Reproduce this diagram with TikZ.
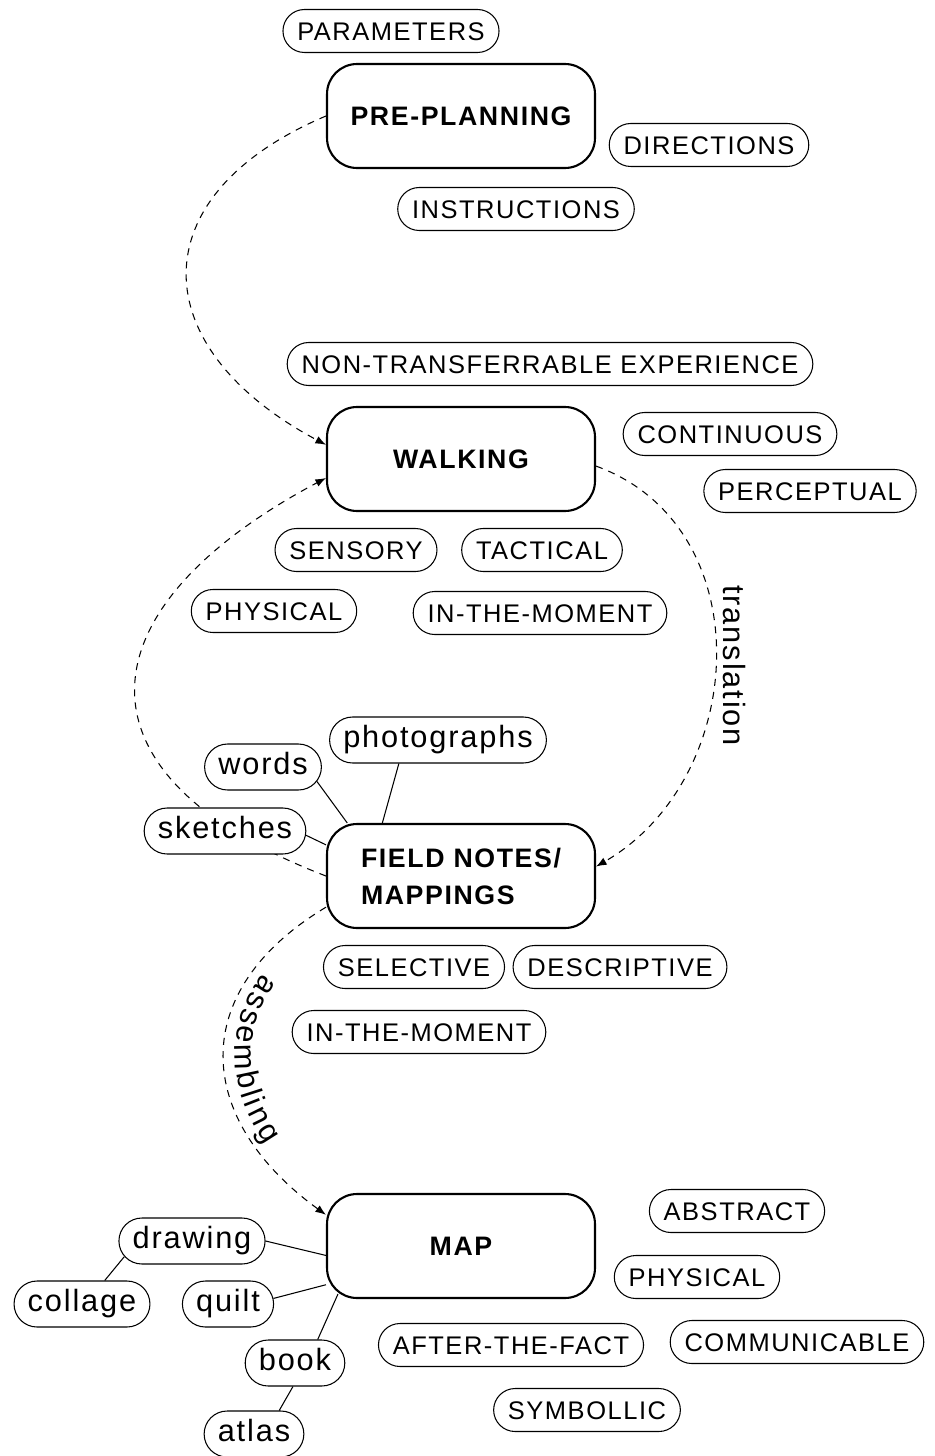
\documentclass[tikz,border=0pt]{standalone}
\usepackage{fontspec}
\setmainfont{Liberation Sans}[LetterSpace=6]
\usetikzlibrary{shapes.misc,backgrounds,arrows.meta,decorations.text}

\newcommand{\tagfont}{\fontsize{14.5}{16}\selectfont}
\newcommand{\mediafont}{\fontsize{17.5}{19}\selectfont}
\newcommand{\stagefont}{\fontsize{15.2}{21}\selectfont\bfseries}
\newcommand{\gap}{{\kern1.8pt}}

\tikzset{
  stage/.style={draw, line width=1.2pt, rounded corners=0.6cm, minimum width=5.36cm, minimum height=2.08cm, font=\stagefont},
  tag/.style={draw, line width=0.6pt, rounded rectangle, fill=white, minimum height=0.86cm, inner xsep=7pt, text height=10.4pt, text depth=0pt, font=\tagfont},
  medium/.style={tag, font=\mediafont, minimum height=0.92cm, text height=9pt, text depth=0pt},
  link/.style={line width=0.6pt},
  flow/.style={->, >={Latex[length=6pt, width=4.5pt]}, line width=0.6pt, dash pattern=on 4pt off 3.5pt},
  flowlabel/.style={anchor=south, font=\mediafont, inner sep=4pt}
}

\begin{document}
\begin{tikzpicture}[x=0.02cm, y=0.02cm]
      \useasboundingbox (0,0) rectangle (934,-1456);

      % stages
      \node[stage] (pre) at (461,-116) {PRE-PLANNING};
      \node[stage] (walk) at (461,-459) {WALKING};
      \node[stage, align=left] (field) at (461,-876) {FIELD NOTES/\\MAPPINGS};
      \node[stage] (map) at (461,-1246) {MAP};

      % pre-planning
      \node[tag] (params) at (391,-31) {PARAMETERS};
      \node[tag] (directions) at (709,-145) {DIRECTIONS};
      \node[tag] (instructions) at (516,-209) {INSTRUCTIONS};

      % walking
      \node[tag] (nontransfer) at (550,-364) {NON-TRANSFERRABLE EXPERIENCE};
      \node[tag] (continuous) at (730,-434) {CONTINUOUS};
      \node[tag] (perceptual) at (810,-491) {PERCEPTUAL};
      \node[tag] (sensory) at (356,-550) {SENSORY};
      \node[tag] (tactical) at (542,-550) {TACTICAL};
      \node[tag] (physicalW) at (274,-611) {PHYSICAL};
      \node[tag] (momentW) at (540,-613) {IN-THE-MOMENT};

      % field notes
      \node[medium] (photographs) at (438,-740) {photographs};
      \node[medium] (words) at (263,-767) {words};
      \node[medium] (sketches) at (225,-831) {sketches};
      \node[tag] (selective) at (414,-967) {SELECTIVE};
      \node[tag] (descriptive) at (620,-967) {DESCRIPTIVE};
      \node[tag] (momentF) at (419,-1032) {IN-THE-MOMENT};

      % map
      \node[tag] (abstract) at (737,-1211) {ABSTRACT};
      \node[medium] (drawing) at (192,-1241) {drawing};
      \node[medium] (collage) at (82,-1304) {collage};
      \node[medium] (quilt) at (228,-1304) {quilt};
      \node[tag] (physicalM) at (697,-1277) {PHYSICAL};
      \node[tag] (communicable) at (797,-1342) {COMMUNICABLE};
      \node[tag] (afterfact) at (511,-1345) {AFTER-THE-FACT};
      \node[medium] (book) at (295,-1363) {book};
      \node[tag] (symbollic) at (587,-1410) {SYMBOLLIC};
      \node[medium] (atlas) at (254,-1434) {atlas};

      % media links
      \draw[link] (words.-15) -- (field.155);
      \draw[link] (photographs.211) -- (field.146);
      \draw[link] (sketches.-3) -- (field.167);
      \draw[link] (drawing.east) -- (map.184);
      \draw[link] (collage.46) -- (drawing.193);
      \draw[link] (quilt.7) -- (map.196);
      \draw[link] (book.46) -- ([xshift=0.24cm, yshift=0.1cm]map.south west);
      \draw[link] (atlas.43) -- (book.265);

      % flows
      \begin{scope}[on background layer]
        \draw[flow] (pre.west) to[out=203, in=152, looseness=1.6] (walk.174);
        \draw[flow] (field.west) to[out=159, in=208, looseness=1.8] (walk.188);
        \draw[flow] (walk.-3) to[out=-20, in=30, looseness=1.13]
          node[flowlabel, pos=0.52, rotate=-90] {translation} (field.4);
        \draw[flow] (field.193) to[out=211, in=144, looseness=1.36] (map.167);
        % label follows the bend
        \path[decorate, decoration={text along path, text align=center,
            text={|\mediafont|a\gap s\gap s\gap e\gap m\gap b\gap l\gap i\gap n\gap g}}]
          ([xshift=0.22cm]field.193) to[out=211, in=144, looseness=1.36] ([xshift=0.22cm]map.167);
      \end{scope}
    \end{tikzpicture}
\end{document}
